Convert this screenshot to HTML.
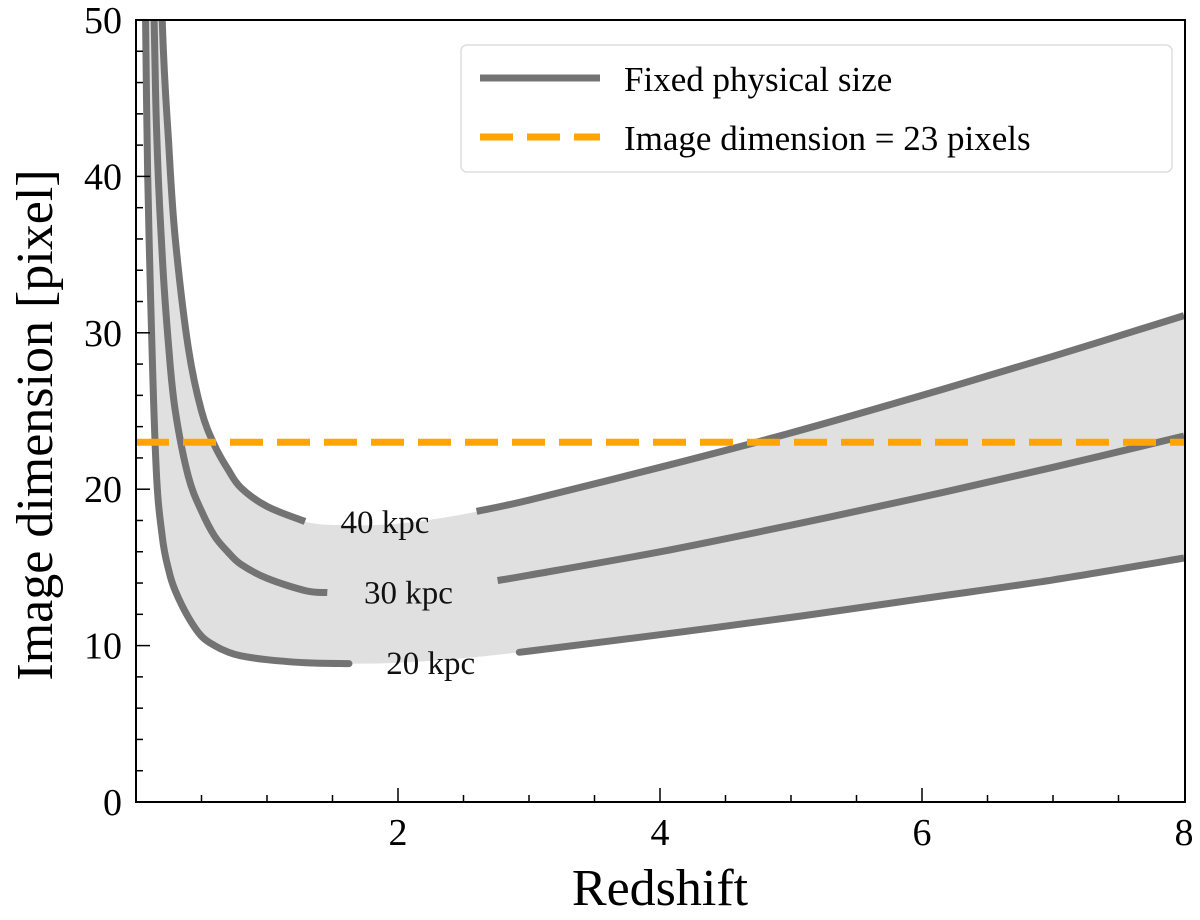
<!DOCTYPE html>
<html><head><meta charset="utf-8">
<style>
html,body{margin:0;padding:0;background:#fff;}
svg{display:block;font-family:"Liberation Serif",serif;}
</style></head>
<body>
<svg id="chart" width="1200" height="920" viewBox="0 0 1200 920" xmlns="http://www.w3.org/2000/svg">
<defs><clipPath id="pc"><rect x="136" y="20" width="1049" height="782"/></clipPath></defs>
<g id="plot" clip-path="url(#pc)"></g>
<g id="axes"></g>
</svg>
<script>
const redshift = [0.06,0.08,0.1,0.15,0.2,0.25,0.3,0.4,0.5,0.6,0.7,0.8,1.0,1.3,1.6,2,2.5,3,4,5,6,7,8];
const size40 = [200,150,120,67,50,42,36,29,25,22.8,21.3,20.1,18.9,17.9,17.7,17.8,18.4,19.3,21.4,23.6,26,28.5,31.1];
const size30 = [110,85,68,45,35,29,25,20.8,18.6,17,16,15.2,14.3,13.5,13.3,13.4,13.8,14.5,16,17.7,19.5,21.4,23.4];
const size20 = [60,45,36,22,17,14.8,13.5,11.8,10.6,10,9.6,9.35,9.1,8.9,8.85,8.9,9.2,9.65,10.7,11.8,13,14.2,15.6];
const thresholdPixels = 23;
const xTicks = [2,4,6,8];
const yTicks = [0,10,20,30,40,50];
const curveLabels = ["40 kpc","30 kpc","20 kpc"];
const gapStart = [1.29,1.46,1.61];
const gapEnd = [2.6,2.76,3.0];
const labelZ = [1.9,2.08,2.25];
const labelY = [17.9,13.4,8.9];

const X = z => 136 + z*131;
const Y = v => 802 - v*15.64;
const NS = "http://www.w3.org/2000/svg";
const plotG = document.getElementById('plot');
const axesG = document.getElementById('axes');
function mk(tag, attrs, parent){const e=document.createElementNS(NS,tag);for(const k in attrs)e.setAttribute(k,attrs[k]);parent.appendChild(e);return e;}
function valAt(arr,z){for(let i=0;i<redshift.length-1;i++){if(z>=redshift[i]&&z<=redshift[i+1]){const t=(z-redshift[i])/(redshift[i+1]-redshift[i]);return arr[i]+t*(arr[i+1]-arr[i]);}}return arr[arr.length-1];}
function pts(arr, lo, hi){
  const out=[];
  if(lo>redshift[0]) out.push([lo,valAt(arr,lo)]);
  redshift.forEach((z,i)=>{if(z>=lo&&z<hi) out.push([z,arr[i]]);});
  out.push([hi,valAt(arr,hi)]);
  return out;
}
function smoothD(p, cont){
  const P=p.map(q=>[X(q[0]),Y(q[1])]);
  let d=(cont?'L':'M')+P[0][0].toFixed(1)+','+P[0][1].toFixed(1);
  for(let i=0;i<P.length-1;i++){
    const p0=P[i-1]||P[i],p1=P[i],p2=P[i+1],p3=P[i+2]||P[i+1];
    const c1=[p1[0]+(p2[0]-p0[0])/6,p1[1]+(p2[1]-p0[1])/6];
    const c2=[p2[0]-(p3[0]-p1[0])/6,p2[1]-(p3[1]-p1[1])/6];
    d+=' C'+c1[0].toFixed(1)+','+c1[1].toFixed(1)+' '+c2[0].toFixed(1)+','+c2[1].toFixed(1)+' '+p2[0].toFixed(1)+','+p2[1].toFixed(1);
  }
  return d;
}

const bandTop = redshift.map((z,i)=>[z,size40[i]]);
const bandBottom = redshift.map((z,i)=>[z,size20[i]]).reverse();
const band = mk('path',{d:smoothD(bandTop,false)+' '+smoothD(bandBottom,true)+' Z',fill:'#e0e0e0'},plotG);



const series=[size40,size30,size20];
const names=['40','30','20'];
series.forEach((s,k)=>{
  const a=mk('path',{d:smoothD(pts(s,redshift[0],gapStart[k]),false),fill:'none',stroke:'#737373','stroke-width':7},plotG);
  
  
  const b=mk('path',{d:smoothD(pts(s,gapEnd[k],8),false),fill:'none',stroke:'#737373','stroke-width':7},plotG);
  
  
  const t=mk('text',{x:X(labelZ[k]),y:Y(labelY[k])+11,'font-size':33,'text-anchor':'middle',fill:'#111'},plotG);
  t.textContent=curveLabels[k];
  
  
});
const th=mk('line',{x1:136,x2:1185,y1:Y(thresholdPixels),y2:Y(thresholdPixels),stroke:'#ffa500','stroke-width':7,'stroke-dasharray':'33,14'},plotG);



const fr=mk('rect',{x:136,y:20,width:1049,height:782,fill:'none',stroke:'#000','stroke-width':2},axesG);


for(let m=0.5;m<8;m+=0.5){mk('line',{x1:X(m),x2:X(m),y1:802,y2:m%2===0?788:795,stroke:'#000','stroke-width':1.5},axesG);}
xTicks.forEach(v=>{const t=mk('text',{x:X(v),y:845,'font-size':38,'text-anchor':'middle'},axesG);t.textContent=v;

});
for(let m=2;m<50;m+=2){mk('line',{x1:136,x2:m%10===0?150:143,y1:Y(m),y2:Y(m),stroke:'#000','stroke-width':1.5},axesG);}
yTicks.forEach(v=>{const t=mk('text',{x:122,y:Y(v)+13,'font-size':38,'text-anchor':'end'},axesG);t.textContent=v;

});
const xl=mk('text',{x:660,y:905,'font-size':52,'text-anchor':'middle'},axesG);xl.textContent='Redshift';


const yl=mk('text',{x:0,y:0,'font-size':52,'text-anchor':'middle',transform:'translate(52,425) rotate(-90)'},axesG);yl.textContent='Image dimension [pixel]';



const lg=mk('g',{},axesG);


mk('rect',{x:461,y:45,width:711,height:127,rx:6,fill:'#fff','fill-opacity':0.85,stroke:'#dddddd','stroke-width':1.5},lg);
mk('line',{x1:480,x2:600,y1:78,y2:78,stroke:'#737373','stroke-width':7},lg);
mk('line',{x1:480,x2:600,y1:137,y2:137,stroke:'#ffa500','stroke-width':7,'stroke-dasharray':'33,14'},lg);
const l1=mk('text',{x:624,y:91,'font-size':35},lg);l1.textContent='Fixed physical size';


const l2=mk('text',{x:624,y:150,'font-size':35},lg);l2.textContent='Image dimension = 23 pixels';


</script>
</body></html>
